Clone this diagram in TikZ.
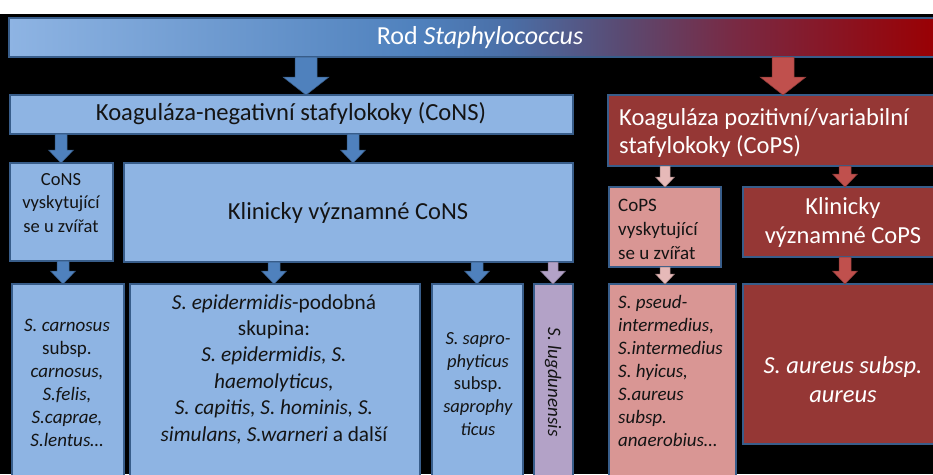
\documentclass[tikz,border=0pt]{standalone}
\usepackage{fontspec}
\setmainfont{Carlito}
\usetikzlibrary{calc}
\definecolor{lblue}{HTML}{8EB4E3}
\definecolor{bordc}{HTML}{385D8A}
\definecolor{ablue}{HTML}{4F81BD}
\definecolor{dred}{HTML}{953735}
\definecolor{ared}{HTML}{C0504D}
\definecolor{lpink}{HTML}{D99694}
\definecolor{apink}{HTML}{E6B9B8}
\definecolor{lav}{HTML}{B3A2C7}
\definecolor{txt}{HTML}{141414}
\definecolor{gpa}{HTML}{4A6EA6}
\definecolor{gpb}{HTML}{5A4A72}
\definecolor{gpc}{HTML}{782A44}
\definecolor{gred}{HTML}{9A0003}
\pgfdeclarehorizontalshading{rodshade}{100bp}{color(0bp)=(lblue); color(25bp)=(lblue); color(47bp)=(ablue); color(52bp)=(gpa); color(58bp)=(gpb); color(64bp)=(gpc); color(75bp)=(gred); color(100bp)=(gred)}
\newcommand\myfs[2]{\fontsize{#1}{#2}\selectfont}
\begin{document}
\begin{tikzpicture}[x=1pt,y=-1pt,
  box/.style={draw=bordc, line width=1.1pt, anchor=north west, inner sep=0pt, outer sep=0pt},
  lab/.style={inner sep=0pt, text=txt, align=center},
  labl/.style={inner sep=0pt, text=txt, align=left, anchor=west},
  arr/.style n args={4}{fill=#1, draw=#1!70!black, line width=0.5pt,
    to path={let \p1=(\tikztostart), \p2=(\tikztotarget) in
      (\x1-#2,\y1) -- (\x1-#2,\y2+#4) -- (\x1-#3,\y2+#4) -- (\x1,\y2)
      -- (\x1+#3,\y2+#4) -- (\x1+#2,\y2+#4) -- (\x1+#2,\y1) -- cycle}},
  bigarr/.style={arr={#1}{11pt}{23pt}{18pt}},
  smarr/.style={arr={#1}{6pt}{12.5pt}{13pt}},
  pkarr/.style={arr={#1}{5pt}{9.5pt}{10pt}}]
\useasboundingbox (0,0) rectangle (933,474);
\clip (0,0) rectangle (933,474);
\fill[white] (0,0) rectangle (933,474);
\fill[black] (0,14) rectangle (933,474);
% boxes
\node[box, shading=rodshade, minimum width=928pt, minimum height=39pt] (rod) at (9,18) {};
\node[box, fill=lblue, minimum width=563pt, minimum height=39pt] (cons) at (10,95) {};
\node[box, fill=dred, minimum width=330pt, minimum height=71pt] (cops) at (608,95) {};
\node[box, fill=lblue, minimum width=103pt, minimum height=98pt] (consanim) at (10,163) {};
\node[box, fill=lblue, minimum width=449pt, minimum height=99pt] (klincons) at (124,163) {};
\node[box, fill=lpink, minimum width=112pt, minimum height=80pt] (copsanim) at (609,187) {};
\node[box, fill=dred, minimum width=195pt, minimum height=70pt] (klincops) at (743,187) {};
\node[box, fill=lblue, minimum width=112pt, minimum height=200pt] (b1) at (12,284) {};
\node[box, fill=lblue, minimum width=290pt, minimum height=200pt] (b2) at (130,284) {};
\node[box, fill=lblue, minimum width=91pt, minimum height=200pt] (b3) at (432,284) {};
\node[box, fill=lav, minimum width=39pt, minimum height=200pt] (b4) at (534,284) {};
\node[box, fill=lpink, minimum width=127pt, minimum height=200pt] (b5) at (609,284) {};
\node[box, fill=dred, minimum width=195pt, minimum height=160pt] (b6) at (743,284) {};
% arrow positions
\coordinate (xa) at (306,0);
\coordinate (xb) at (783,0);
\coordinate (xc) at (61,0);
\coordinate (xd) at (353,0);
\coordinate (xe) at (665,0);
\coordinate (xf) at (845,0);
\coordinate (xg) at (63,0);
\coordinate (xh) at (274,0);
\coordinate (xi) at (477,0);
\coordinate (xj) at (553,0);
% arrows
\draw[bigarr=ablue] (rod.south -| xa) to (cons.north -| xa);
\draw[bigarr=ared] (rod.south -| xb) to (cops.north -| xb);
\draw[smarr=ablue] (cons.south -| xc) to (consanim.north -| xc);
\draw[smarr=ablue] (cons.south -| xd) to (klincons.north -| xd);
\draw[pkarr=apink] (cops.south -| xe) to (copsanim.north -| xe);
\draw[smarr=ared] (cops.south -| xf) to (klincops.north -| xf);
\draw[smarr=ablue] (consanim.south -| xg) to (b1.north -| xg);
\draw[smarr=ablue] (klincons.south -| xh) to (b2.north -| xh);
\draw[smarr=ablue] (klincons.south -| xi) to (b3.north -| xi);
\draw[arr={lav}{5pt}{12.5pt}{13pt}] (klincons.south -| xj) to (b4.north -| xj);
\draw[pkarr=apink] (copsanim.south -| xe) to (b5.north -| xe);
\draw[smarr=ared] (klincops.south -| xf) to (b6.north -| xf);
% texts
\node[lab, text=white, font=\myfs{26}{30}] (rodT) at (480,38) {Rod \textit{Staphylococcus}};
\node[lab, font=\myfs{24.6}{28}] (consT) at (291,114) {Koaguláza-negativní stafylokoky (CoNS)};
\node[labl, text=white, font=\myfs{24.5}{28}] (copsT) at (619,133) {Koaguláza pozitivní/variabilní\\stafylokoky (CoPS)};
\node[lab, font=\myfs{18.5}{23.5}] (consanimT) at (61,203) {CoNS\\vyskytující\\se u zvířat};
\node[lab, font=\myfs{24.5}{29}] (klinconsT) at (348,213) {Klinicky významné CoNS};
\node[labl, font=\myfs{19}{24}] (copsanimT) at (618,229) {CoPS\\vyskytující\\se u zvířat};
\node[lab, text=white, font=\myfs{24.5}{29}] (klincopsT) at (843,222) {Klinicky\\významné CoPS};
\node[lab, font=\myfs{19}{23}] (b1T) at (67,383) {\textit{S. carnosus}\\subsp.\\\textit{carnosus,}\\\textit{S.felis,}\\\textit{S.caprae,}\\\textit{S.lentus…}};
\node[lab, font=\myfs{21.3}{26.4}] (b2T) at (274,369) {\textit{S. epidermidis}-podobná\\skupina:\\\textit{S. epidermidis, S.}\\\textit{haemolyticus,}\\\textit{S. capitis, S. hominis, S.}\\\textit{simulans, S.warneri} a další};
\node[lab, font=\myfs{18.5}{22.7}] (b3T) at (478,384) {\textit{S. sapro-}\\\textit{phyticus}\\subsp.\\\textit{saprophy}\\\textit{ticus}};
\node[lab, font=\myfs{19}{23}, rotate=-90] (b4T) at (553,382) {\textit{S. lugdunensis}};
\node[labl, font=\myfs{19}{23}] (b5T) at (618,371) {\textit{S. pseud-}\\\textit{intermedius,}\\\textit{S.intermedius}\\\textit{S. hyicus,}\\\textit{S.aureus}\\\textit{subsp.}\\\textit{anaerobius…}};
\node[lab, text=white, font=\myfs{24.5}{29}] (b6T) at (843,380) {\textit{S. aureus subsp.}\\\textit{aureus}};
\end{tikzpicture}
\end{document}
